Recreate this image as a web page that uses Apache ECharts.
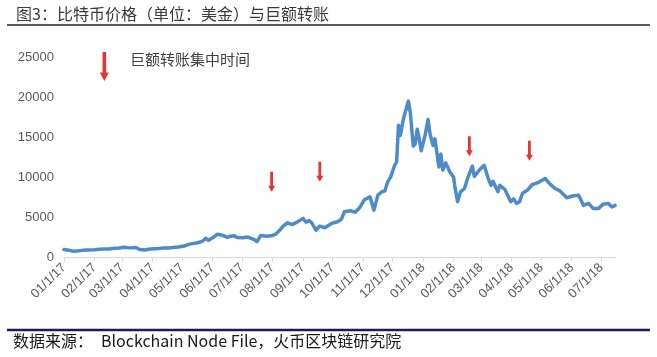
<!DOCTYPE html>
<html>
<head>
<meta charset="utf-8">
<script src="https://cdn.jsdelivr.net/npm/echarts@6/dist/echarts.min.js"></script>
<style>
html,body{margin:0;padding:0;background:#fff;}
#c{width:657px;height:357px;}
</style>
</head>
<body>
<div id="c"></div>
<script>
// ---- data ----
const titleText = '图3：比特币价格（单位：美金）与巨额转账';
const sourceLabel = '数据来源：';
const sourceText = 'Blockchain Node File，火币区块链研究院';
const legendText = '巨额转账集中时间';

const dates = [
 '2017-01-01','2017-01-03','2017-01-06','2017-01-11','2017-01-16','2017-01-20','2017-01-25','2017-02-01','2017-02-06','2017-02-11','2017-02-16','2017-02-21','2017-02-26',
 '2017-03-03','2017-03-07','2017-03-10','2017-03-15','2017-03-19','2017-03-24','2017-03-28','2017-04-02','2017-04-06','2017-04-12','2017-04-17','2017-04-22','2017-04-27',
 '2017-05-03','2017-05-07','2017-05-10','2017-05-14','2017-05-17','2017-05-22','2017-05-25','2017-05-28','2017-06-01','2017-06-06','2017-06-10','2017-06-13','2017-06-16',
 '2017-06-19','2017-06-23','2017-06-26','2017-07-01','2017-07-03','2017-07-07','2017-07-10','2017-07-13','2017-07-16','2017-07-20','2017-07-22','2017-07-26','2017-08-01',
 '2017-08-04','2017-08-09','2017-08-12','2017-08-16','2017-08-18','2017-08-21','2017-08-26','2017-09-01','2017-09-04','2017-09-07','2017-09-10','2017-09-14','2017-09-18',
 '2017-09-23','2017-09-30','2017-10-06','2017-10-10','2017-10-13','2017-10-19','2017-10-24','2017-10-29','2017-10-31','2017-11-02','2017-11-08','2017-11-12','2017-11-16',
 '2017-11-20','2017-11-23','2017-11-26','2017-11-29','2017-12-03','2017-12-05','2017-12-07','2017-12-09','2017-12-12','2017-12-14','2017-12-17','2017-12-19','2017-12-22',
 '2017-12-24','2017-12-26','2017-12-28','2017-12-30','2018-01-03','2018-01-06','2018-01-08','2018-01-11','2018-01-13','2018-01-17','2018-01-19','2018-01-21','2018-01-24',
 '2018-01-28','2018-02-01','2018-02-02','2018-02-05','2018-02-08','2018-02-12','2018-02-15','2018-02-20','2018-02-22','2018-02-27','2018-03-04','2018-03-05','2018-03-08',
 '2018-03-11','2018-03-13','2018-03-18','2018-03-20','2018-03-25','2018-03-31','2018-04-03','2018-04-06','2018-04-09','2018-04-12','2018-04-17','2018-04-22','2018-04-27',
 '2018-05-05','2018-05-10','2018-05-15','2018-05-20','2018-05-27','2018-06-03','2018-06-08','2018-06-13','2018-06-18','2018-06-23','2018-06-28','2018-07-03','2018-07-08',
 '2018-07-12','2018-07-15'
];
const prices = [
 1000,1050,900,790,830,890,920,970,1020,1050,1060,1140,1180,
 1290,1230,1200,1250,1000,930,1030,1090,1100,1200,1180,1250,1300,
 1430,1600,1700,1780,1840,2050,2400,2150,2450,2900,2800,2680,2500,
 2650,2700,2500,2450,2590,2550,2390,2250,1970,2750,2900,2650,2750,
 2900,3500,3950,4330,4200,4100,4420,4880,4400,4600,4300,3400,3920,
 3710,4250,4450,4800,5700,5830,5650,6300,6450,7160,7570,5900,7780,
 8200,8280,9440,10060,11500,11900,16500,15250,17330,17100,19500,18000,13900,
 14200,16000,14800,13300,15250,17200,15400,14000,14800,11300,12900,10900,11800,
 10700,10000,9000,6950,8190,8600,9800,11400,10100,10900,11500,11600,9900,
 9000,9500,8200,9000,8500,6950,7300,6750,6950,8000,8400,9100,9300,
 9850,9150,8600,8300,7450,7700,7750,6500,6750,6100,6100,6650,6750,
 6300,6500
];
// arrows marking large-transfer periods: date and price level of the arrow centre
const arrowDates = ['2017-02-11','2017-07-31','2017-09-18','2018-02-17','2018-04-19'];
const arrowLevels = [23800, 9440, 10680, 13880, 13300];
const arrowBig = [true, false, false, false, false];

const axisStart = '2017-01-01';
const axisEnd = '2018-07-16';
const monthLabels = ['01/1/17','02/1/17','03/1/17','04/1/17','05/1/17','06/1/17','07/1/17','08/1/17','09/1/17','10/1/17','11/1/17','12/1/17',
                     '01/1/18','02/1/18','03/1/18','04/1/18','05/1/18','06/1/18','07/1/18'];
const yTicks = [0, 5000, 10000, 15000, 20000, 25000];

// ---- build ----
const DAY = 86400000;
function ts(s){ const p = s.split('-').map(Number); return Date.UTC(p[0], p[1]-1, p[2]) / DAY; }
function labelTs(l){ const p = l.split('/'); return Date.UTC(2000 + Number(p[2]), Number(p[0]) - 1, 1) / DAY; }
const monthTicks = monthLabels.map(labelTs);
const labelMap = {};
monthLabels.forEach((l, i) => { labelMap[monthTicks[i]] = l; });
const lineData = dates.map((d, i) => [ts(d), prices[i]]);
const arrowPath = 'path://M3,0 L7,0 L7,14 L10,14 L5,20 L0,14 L3,14 Z';
const arrowData = arrowDates.map((d, i) => ({
  value: [ts(d), arrowLevels[i]],
  symbolSize: arrowBig[i] ? [9, 29] : [7, 20]
}));

const chart = echarts.init(document.getElementById('c'), null, {renderer: 'canvas'});
const cjk = '"Noto Sans CJK SC", "Noto Sans", sans-serif';
const latin = '"Liberation Sans", Arial, sans-serif';
chart.setOption({
  animation: false,
  backgroundColor: '#ffffff',
  grid: {left: 64, right: 41, top: 57, bottom: 99.5, containLabel: false},
  xAxis: {
    type: 'value',
    min: ts(axisStart),
    max: ts(axisEnd),
    splitLine: {show: false},
    axisLine: {show: true, lineStyle: {color: '#d9d9d9', width: 1}},
    axisTick: {show: true, length: 4, lineStyle: {color: '#d9d9d9'}, customValues: monthTicks},
    axisLabel: {
      customValues: monthTicks,
      rotate: 45,
      margin: 8,
      fontSize: 13,
      fontFamily: latin,
      color: '#595959',
      showMinLabel: true,
      showMaxLabel: true,
      hideOverlap: false,
      formatter: function (v) { return labelMap[v] || ''; }
    }
  },
  yAxis: {
    type: 'value',
    min: yTicks[0],
    max: yTicks[yTicks.length - 1],
    interval: 5000,
    splitLine: {show: false},
    axisLine: {show: false},
    axisTick: {show: false},
    axisLabel: {fontSize: 13, margin: 10, color: '#595959', fontFamily: latin,
      formatter: function (v) { return String(v); }}
  },
  series: [
    {
      type: 'line',
      data: lineData,
      showSymbol: false,
      smooth: false,
      lineStyle: {color: '#4e8bca', width: 3.5, join: 'round', cap: 'round'},
      z: 2
    },
    {
      type: 'scatter',
      data: arrowData,
      symbol: arrowPath,
      symbolKeepAspect: false,
      itemStyle: {color: '#e00000'},
      z: 3
    }
  ],
  graphic: [
    {type: 'text', left: 16, top: 6, style: {text: titleText, font: '16px ' + cjk, fill: '#3a3a3a'}},
    {type: 'line', shape: {x1: 7, y1: 25, x2: 650, y2: 25}, style: {stroke: '#222', lineWidth: 1.5}},
    {type: 'text', left: 130, top: 52, style: {text: legendText, font: '15px ' + cjk, fill: '#3f3f3f'}},
    {type: 'line', shape: {x1: 7, y1: 330, x2: 650, y2: 330}, style: {stroke: '#1b1b5a', lineWidth: 2.5}},
    {type: 'text', left: 13, top: 333, style: {text: sourceLabel, font: '16px ' + cjk, fill: '#1a1a1a'}},
    {type: 'text', left: 101, top: 333, style: {text: sourceText, font: '16px ' + cjk, fill: '#1a1a1a'}}
  ]
});
</script>
</body>
</html>
